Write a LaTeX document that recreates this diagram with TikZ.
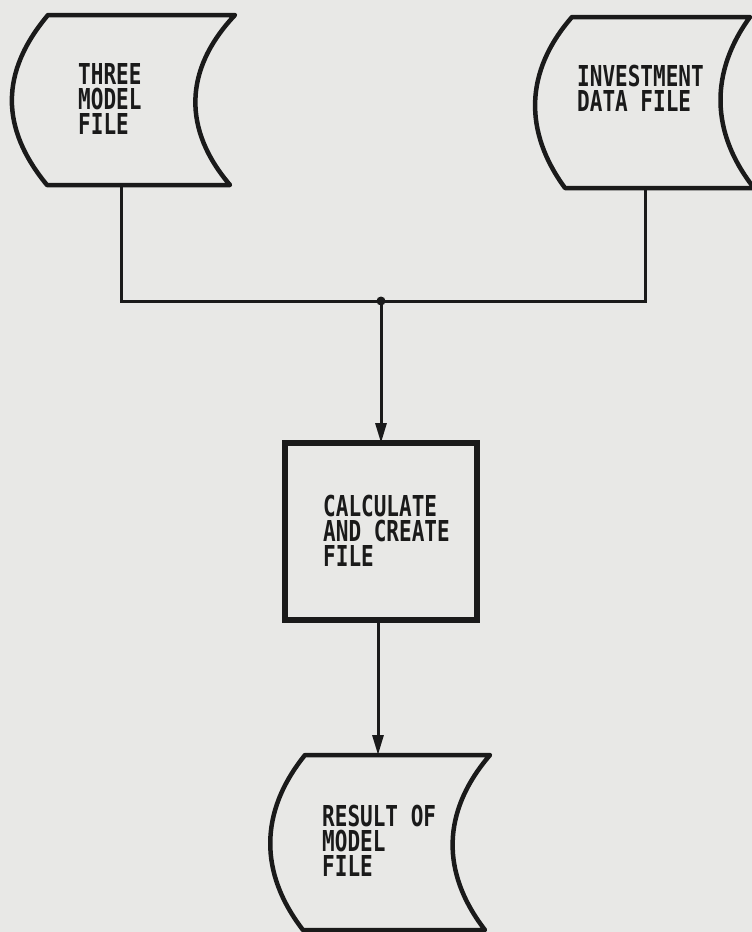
\documentclass[tikz,border=0pt]{standalone}
\usepackage{fontspec}
\usetikzlibrary{arrows.meta}
\newfontfamily\dotfont[FakeStretch=0.73]{DejaVu Sans Mono}
\definecolor{paper}{HTML}{E8E8E6}
\definecolor{ink}{HTML}{1A1A1A}
\begin{document}
\begin{tikzpicture}[x=1pt,y=-1pt,
  outline/.style={draw=ink,line width=4.5pt,line join=round},
  link/.style={draw=ink,line width=3pt},
  flow/.style={link,-{Triangle[length=20pt,width=11pt]}},
  filetext/.style={font={\dotfont\bfseries\fontsize{28.8}{25}\selectfont},text=ink,inner sep=0pt,anchor=north west,align=left},
  procbox/.style={draw=ink,line width=6pt,minimum width=192pt,minimum height=177pt,inner sep=0pt,outer sep=0pt}]
\fill[paper] (0,0) rectangle (752,932);
\useasboundingbox (0,0) rectangle (752,932);
\begin{scope}
\clip (0,0) rectangle (752,932);
% storage shapes
\draw[outline] (48,15) -- (235,15) .. controls (183,70) and (183,130) .. (230,185) -- (47,185) .. controls (0,128) and (0,72) .. cycle;
\draw[outline] (572,17) -- (750,17) .. controls (710,72) and (710,132) .. (754,188) -- (565,188) .. controls (524,132) and (524,72) .. cycle;
\draw[outline] (305,755) -- (490,755) .. controls (441,812) and (441,873) .. (485,930) -- (303,930) .. controls (259,873) and (259,812) .. cycle;
% process box
\node[procbox] (calc) at (381,531.5) {};
% texts
\node[filetext] (tmText) at (78,63) {THREE\\MODEL\\FILE};
\node[filetext] (idText) at (577,65) {INVESTMENT\\DATA FILE};
\node[filetext] (calcText) at (323,495) {CALCULATE\\AND CREATE\\FILE};
\node[filetext] (resText) at (322,805) {RESULT OF\\MODEL\\FILE};
% connectors
\coordinate (tmOut) at (121,185);
\coordinate (idOut) at (645,188);
\coordinate (junc) at (381,301);
\coordinate (boxOut) at (378,620);
\coordinate (resIn) at (378,755);
\draw[link] (tmOut) |- (junc) -| (idOut);
\fill[ink] (junc) circle (4.5);
\draw[flow] (junc) -- (calc.north);
\draw[flow] (boxOut) -- (resIn);
\end{scope}
\end{tikzpicture}
\end{document}
